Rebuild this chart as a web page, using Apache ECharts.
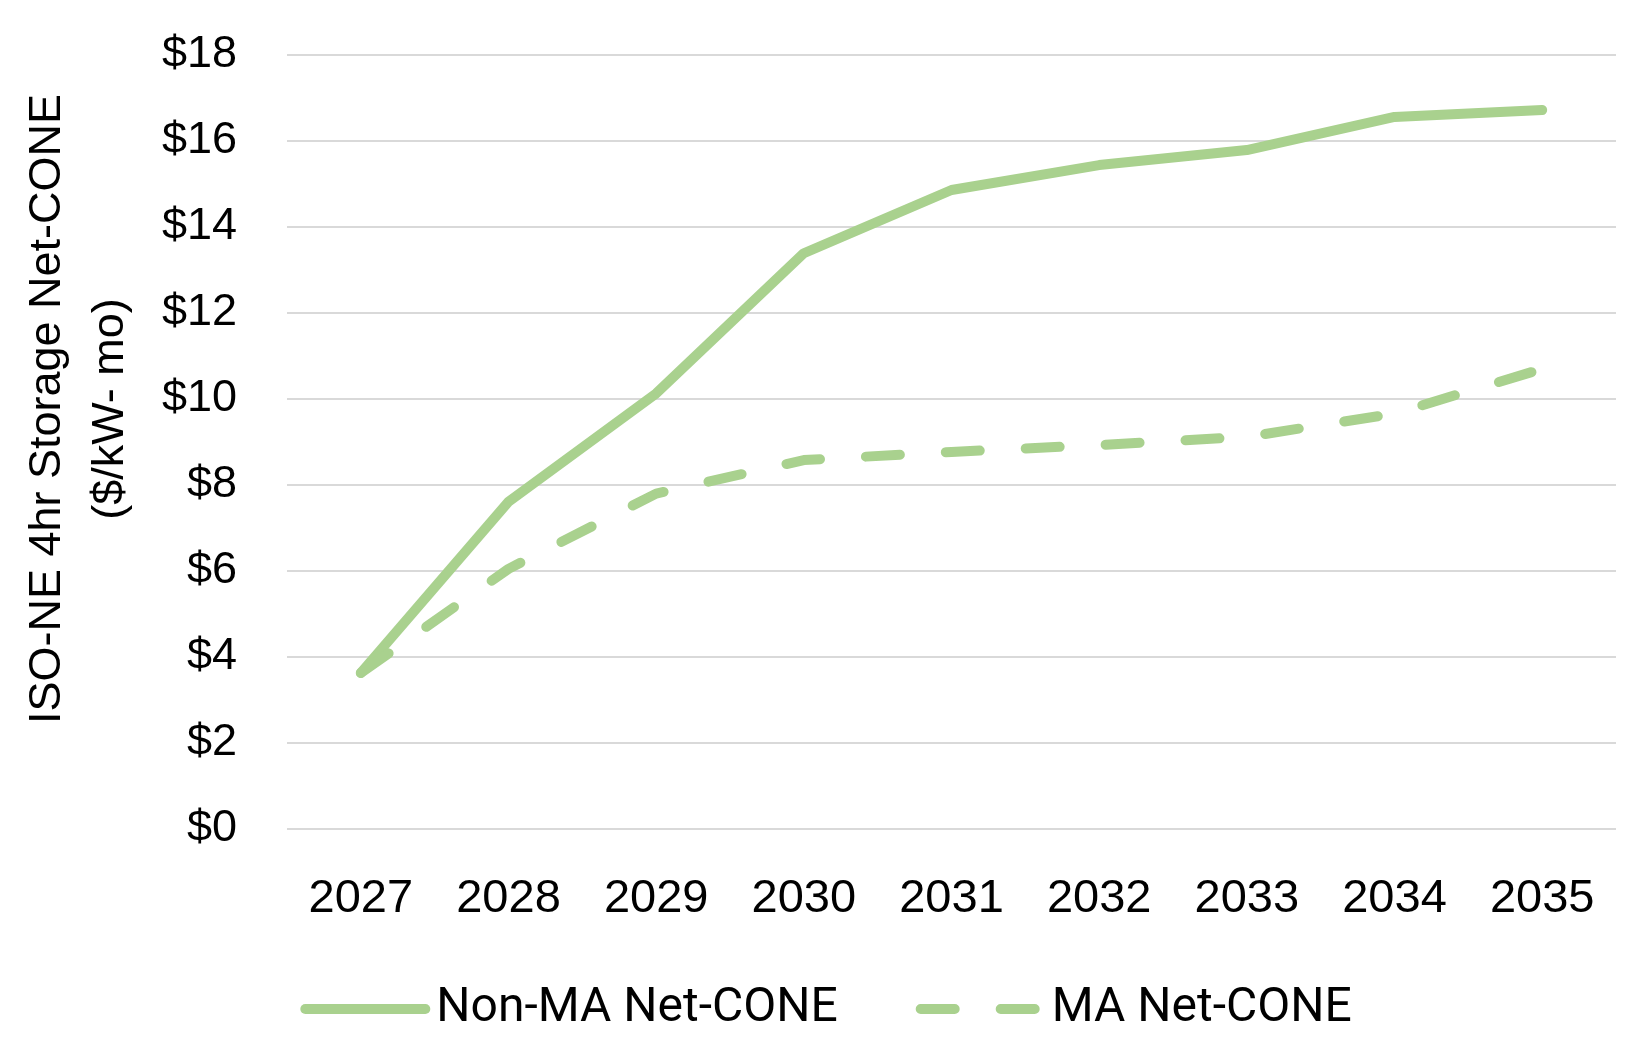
<!DOCTYPE html>
<html>
<head>
<meta charset="utf-8">
<script src="https://cdn.jsdelivr.net/npm/echarts@6/dist/echarts.min.js"></script>
<style>
html,body{margin:0;padding:0;background:#fff;}
#chart{width:1652px;height:1062px;}
</style>
</head>
<body>
<div id="chart"></div>
<script>
const categories = ['2027','2028','2029','2030','2031','2032','2033','2034','2035'];
const nonMA = [3.63, 7.61, 10.13, 13.39, 14.86, 15.44, 15.79, 16.56, 16.72];
const ma = [3.63, 6.05, 7.8, 8.58, 8.77, 8.93, 9.12, 9.66, 10.70];
const seriesNames = ['Non-MA Net-CONE', 'MA Net-CONE'];
const yTitle = 'ISO-NE 4hr Storage Net-CONE\n($/kW- mo)';

const green = '#A9D18E';
const chart = echarts.init(document.getElementById('chart'));
chart.setOption({
  backgroundColor: '#ffffff',
  animation: false,
  grid: { left: 287, right: 36, top: 55, bottom: 233 },
  xAxis: {
    type: 'category',
    data: categories,
    boundaryGap: true,
    axisLine: { show: false },
    axisTick: { show: false },
    axisLabel: { color: '#000', fontFamily: 'Liberation Sans, Arial', fontSize: 47, margin: 47 }
  },
  yAxis: {
    type: 'value',
    min: 0, max: 18, interval: 2,
    axisLine: { show: false },
    axisTick: { show: false },
    axisLabel: { color: '#000', fontFamily: 'Liberation Sans, Arial', fontSize: 45, margin: 50,
      formatter: v => '$' + v },
    splitLine: { lineStyle: { color: '#D9D9D9', width: 2 } }
  },
  legend: {
    top: 980,
    left: 'center',
    itemWidth: 120,
    itemHeight: 11,
    itemGap: 78,
    lineStyle: { width: 10, cap: 'round' },
    itemStyle: { opacity: 0 },
    textStyle: { color: '#000', fontFamily: 'Roboto', fontSize: 48, padding: [0, 0, 0, 6] },
    data: seriesNames
  },
  graphic: [{
    type: 'text',
    x: 79, y: 409,
    rotation: Math.PI / 2,
    style: {
      text: yTitle,
      fill: '#000',
      font: '45px "Liberation Sans", Arial',
      lineHeight: 63,
      align: 'center',
      verticalAlign: 'middle'
    }
  }],
  series: [
    {
      name: seriesNames[0], type: 'line', data: nonMA, symbol: 'none',
      lineStyle: { color: green, width: 10, cap: 'round', join: 'round' },
      itemStyle: { color: green }
    },
    {
      name: seriesNames[1], type: 'line', data: ma, symbol: 'none',
      lineStyle: { color: green, width: 10, type: [34, 46], cap: 'round', join: 'round' },
      itemStyle: { color: green }
    }
  ]
});
</script>
</body>
</html>
